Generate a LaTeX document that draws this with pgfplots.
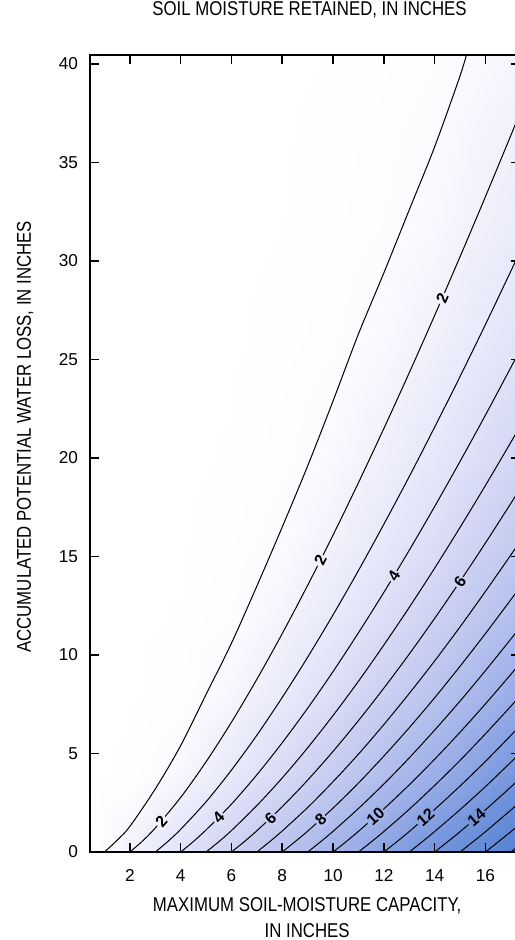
\documentclass[border=0pt]{standalone}
\usepackage{pgfplots}
\pgfplotsset{compat=1.18}
\usepackage{pgfplotstable}
\usepackage{fontspec}
\setmainfont{Liberation Sans}
\newfontfamily\condensed{Liberation Sans}[FakeStretch=0.84]

\definecolor{lab2}{RGB}{242,242,252}
\definecolor{lab4}{RGB}{224,226,248}
\definecolor{lab6}{RGB}{205,210,243}
\definecolor{lab8}{RGB}{184,195,238}
\definecolor{lab10}{RGB}{162,179,233}
\definecolor{lab12}{RGB}{138,163,227}
\definecolor{lab14}{RGB}{114,148,221}

\pgfplotsset{colormap={soil}{rgb255(0cm)=(255,255,255) rgb255(1cm)=(252,252,255)
  rgb255(2cm)=(242,242,252) rgb255(4cm)=(224,226,248) rgb255(6cm)=(205,210,243)
  rgb255(8cm)=(184,195,238) rgb255(10cm)=(162,179,233) rgb255(12cm)=(138,163,227)
  rgb255(14cm)=(114,148,221) rgb255(17cm)=(84,128,211)}}
\pgfplotsset{cline/.style={black, line width=0.5pt, smooth, mark=none}}
\tikzset{clab/.style={inner sep=0.7pt, font=\bfseries\fontsize{8}{9}\selectfont}}

% soil moisture retained (R) on a coarse grid of capacity C and water loss A
\pgfplotstableread{
C A R
0.4 0 0.40
0.4 4 0
0.4 8 0
0.4 12 0
0.4 16 0
0.4 20 0
0.4 26 0
0.4 32 0
0.4 40.7 0
2 0 2.00
2 4 0.27
2 8 0.04
2 12 0
2 16 0
2 20 0
2 26 0
2 32 0
2 40.7 0
4 0 4.00
4 4 1.47
4 8 0.54
4 12 0.20
4 16 0.07
4 20 0.03
4 26 0
4 32 0
4 40.7 0
6 0 6.00
6 4 3.08
6 8 1.58
6 12 0.81
6 16 0.42
6 20 0.21
6 26 0.08
6 32 0.03
6 40.7 0.01
8 0 8.00
8 4 4.85
8 8 2.94
8 12 1.79
8 16 1.08
8 20 0.66
8 26 0.31
8 32 0.15
8 40.7 0.05
10 0 10.00
10 4 6.70
10 8 4.49
10 12 3.01
10 16 2.02
10 20 1.35
10 26 0.74
10 32 0.41
10 40.7 0.17
12 0 12.00
12 4 8.60
12 8 6.16
12 12 4.41
12 16 3.16
12 20 2.27
12 26 1.38
12 32 0.83
12 40.7 0.40
14 0 14.00
14 4 10.52
14 8 7.91
14 12 5.94
14 16 4.46
14 20 3.36
14 26 2.19
14 32 1.42
14 40.7 0.77
17.4 0 17.40
17.4 4 13.83
17.4 8 10.99
17.4 12 8.73
17.4 16 6.94
17.4 20 5.51
17.4 26 3.90
17.4 32 2.77
17.4 40.7 1.70
}\gridtable

\begin{document}
\begin{tikzpicture}
\begin{axis}[
  at={(0,0)}, anchor=south west,
  scale only axis, width=215pt, height=398.5pt,
  xmin=0.43, xmax=17.36, ymin=0, ymax=40.46,
  xtick={2,4,...,16}, ytick={0,5,...,40},
  tick align=inside, major tick length=4.5pt,
  tick style={black, line width=0.8pt},
  axis line style={line width=1pt},
  colormap name=soil, point meta min=0, point meta max=17,
  /pgf/number format/assume math mode=true,
  tick label style={font=\fontsize{8.6}{10}\selectfont},
  xticklabel style={yshift=-5.1pt},
  yticklabel style={xshift=-2.5pt},
  title={SOIL MOISTURE RETAINED, IN INCHES},
  title style={at={(axis description cs:0.5105,1)}, anchor=base, yshift=13.5pt,
    font=\condensed\fontsize{10}{12}\selectfont},
  xlabel={MAXIMUM SOIL-MOISTURE CAPACITY,\\IN INCHES},
  xlabel style={at={(axis description cs:0.505,0)}, anchor=north, yshift=-22.5pt,
    inner sep=0pt, align=center, font=\condensed\fontsize{10}{13.2}\selectfont},
  ylabel={ACCUMULATED POTENTIAL WATER LOSS, IN INCHES},
  every axis y label/.style={at={(axis description cs:-0.151,0.521)}, rotate=90,
    anchor=center, font=\condensed\fontsize{10}{12}\selectfont},
  axis on top,
]
\addplot[surf, shader=interp, point meta=explicit, mesh/rows=9, mesh/cols=9]
  table[x=C, y=A, meta=R] {\gridtable};

% contours of retained moisture, 1 to 17 inches
\addplot[cline] coordinates {(1,0) (1.5,0.6) (2,1.3) (3,3.2) (4,5.4) (5,8.0) (6,10.6) (7,13.5) (8,16.5) (9,19.6) (10,22.9) (11,26.3) (12,29.4) (13,32.6) (14,35.8) (15,39.4) (15.3,40.7)};
\addplot[cline] coordinates {(2,0) (2.5,0.56) (3,1.22) (4,2.77) (5,4.58) (6,6.59) (7,8.77) (8,11.09) (9,13.54) (10,16.09) (11,18.75) (12,21.5) (13,24.33) (14,27.24) (15,30.22) (16,33.27) (17,36.38) (17.4,37.64)};
\addplot[cline] coordinates {(3,0) (3.5,0.54) (4,1.15) (5,2.55) (6,4.16) (7,5.93) (8,7.85) (9,9.89) (10,12.04) (11,14.29) (12,16.64) (13,19.06) (14,21.57) (15,24.14) (16,26.78) (17,29.49) (17.4,30.59)};
\addplot[cline] coordinates {(4,0) (4.5,0.53) (5,1.12) (6,2.43) (7,3.92) (8,5.55) (9,7.30) (10,9.16) (11,11.13) (12,13.18) (13,15.32) (14,17.54) (15,19.83) (16,22.18) (17,24.6) (17.4,25.58)};
\addplot[cline] coordinates {(5,0) (5.5,0.52) (6,1.09) (7,2.36) (8,3.76) (9,5.29) (10,6.93) (11,8.67) (12,10.51) (13,12.42) (14,14.41) (15,16.48) (16,18.61) (17,20.8) (17.4,21.7)};
\addplot[cline] coordinates {(6,0) (6.5,0.52) (7,1.08) (8,2.30) (9,3.65) (10,5.11) (11,6.67) (12,8.32) (13,10.05) (14,11.86) (15,13.74) (16,15.69) (17,17.7) (17.4,18.53)};
\addplot[cline] coordinates {(7,0) (7.5,0.52) (8,1.07) (9,2.26) (10,3.57) (11,4.97) (12,6.47) (13,8.05) (14,9.70) (15,11.43) (16,13.23) (17,15.08) (17.4,15.84)};
\addplot[cline] coordinates {(8,0) (8.5,0.52) (9,1.06) (10,2.23) (11,3.50) (12,4.87) (13,6.31) (14,7.83) (15,9.43) (16,11.09) (17,12.81) (17.4,13.52)};
\addplot[cline] coordinates {(9,0) (9.5,0.51) (10,1.05) (11,2.21) (12,3.45) (13,4.78) (14,6.19) (15,7.66) (16,9.21) (17,10.81) (17.4,11.47)};
\addplot[cline] coordinates {(10,0) (10.5,0.51) (11,1.05) (12,2.19) (13,3.41) (14,4.71) (15,6.08) (16,7.52) (17,9.02) (17.4,9.64)};
\addplot[cline] coordinates {(11,0) (11.5,0.51) (12,1.04) (13,2.17) (14,3.38) (15,4.65) (16,6.0) (17,7.40) (17.4,7.98)};
\addplot[cline] coordinates {(12,0) (12.5,0.51) (13,1.04) (14,2.16) (15,3.35) (16,4.60) (17,5.92) (17.4,6.47)};
\addplot[cline] coordinates {(13,0) (13.5,0.51) (14,1.04) (15,2.15) (16,3.32) (17,4.56) (17.4,5.07)};
\addplot[cline] coordinates {(14,0) (14.5,0.51) (15,1.03) (16,2.14) (17,3.30) (17.4,3.78)};
\addplot[cline] coordinates {(15,0) (15.5,0.51) (16,1.03) (17,2.13) (17.4,2.58)};
\addplot[cline] coordinates {(16,0) (16.5,0.51) (17,1.03) (17.4,1.46)};
\addplot[cline] coordinates {(17,0) (17.4,0.41)};

\node[clab, rotate=49, fill=lab2] at (axis cs:3.24,1.56) {2};
\node[clab, rotate=45.6, fill=lab4] at (axis cs:5.49,1.74) {4};
\node[clab, rotate=43.6, fill=lab6] at (axis cs:7.54,1.72) {6};
\node[clab, rotate=42.3, fill=lab8] at (axis cs:9.51,1.65) {8};
\node[clab, rotate=41.8, fill=lab10] at (axis cs:11.67,1.80) {10};
\node[clab, rotate=41.2, fill=lab12] at (axis cs:13.64,1.75) {12};
\node[clab, rotate=40.8, fill=lab14] at (axis cs:15.65,1.74) {14};
\node[clab, rotate=63.3, fill=lab2] at (axis cs:9.5,14.8) {2};
\node[clab, rotate=66.5, fill=lab2] at (axis cs:14.3,28.1) {2};
\node[clab, rotate=58.8, fill=lab4] at (axis cs:12.4,14.0) {4};
\node[clab, rotate=56, fill=lab6] at (axis cs:15.0,13.7) {6};
\end{axis}
\pgfresetboundingbox
\path[use as bounding box] (-45pt,-44pt) rectangle (212pt,426pt);
\end{tikzpicture}
\end{document}
